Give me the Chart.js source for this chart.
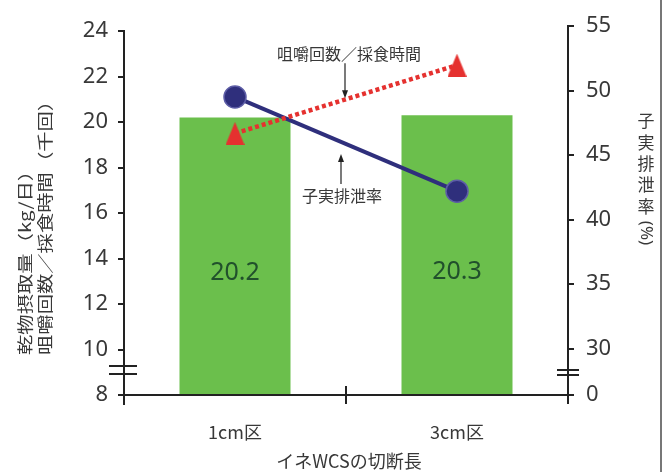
<!DOCTYPE html>
<html>
<head>
<meta charset="utf-8">
<script src="https://cdn.jsdelivr.net/npm/chart.js@4/dist/chart.umd.min.js"></script>
<style>
  html, body { margin: 0; padding: 0; background: #ffffff; }
  #wrap { width: 665px; height: 472px; position: relative; }
</style>
</head>
<body>
<div id="wrap"><canvas id="c" width="665" height="472"></canvas></div>
<script>
// ---- data ----
const categories = ['1cm区', '3cm区'];
const intake = [20.2, 20.3];        // 乾物摂取量 (kg/日)
const chewing = [19.5, 22.5];       // 咀嚼回数／採食時間 (千回)
const excretion = [49.5, 42.2];     // 子実排泄率 (%)
const leftTicks = [8, 10, 12, 14, 16, 18, 20, 22, 24];
const rightTicks = [30, 35, 40, 45, 50, 55];

const xTitle = 'イネWCSの切断長';
const leftTitle = ['乾物摂取量（kg/日）', '咀嚼回数／採食時間（千回）'];
const rightTitleChars = ['子', '実', '排', '泄', '率'];
const rightTitleUnit = '(%)';
const chewNote = '咀嚼回数／採食時間';
const excrNote = '子実排泄率';

// ---- scale ranges (the right axis is broken below 30; its floor is labelled 0) ----
const LEFT_MIN = 8, LEFT_MAX = 24.22;
const RIGHT_MIN = 26.4, RIGHT_MAX = 55;

const FONT = "'Noto Sans', 'Noto Sans CJK JP', sans-serif";
const JFONT = "'Noto Sans CJK JP', 'Noto Sans', sans-serif";
const INK = '#383838';
const AXIS = '#222222';
const GREEN = '#6bbf4c';
const RED = '#e5312f';
const NAVY = '#2f2f7c';

function triangleMark(w, h, color) {
  const c = document.createElement('canvas');
  c.width = w; c.height = h;
  const g = c.getContext('2d');
  g.fillStyle = color;
  g.beginPath();
  g.moveTo(w / 2, 0);
  g.lineTo(w, h);
  g.lineTo(0, h);
  g.closePath();
  g.fill();
  return c;
}
const tri = triangleMark(19, 23, RED);

function arrow(ctx, x, y0, y1) {
  // shaft from y0 to tip y1
  const dir = Math.sign(y1 - y0);
  ctx.beginPath();
  ctx.moveTo(x, y0);
  ctx.lineTo(x, y1 - dir * 5);
  ctx.stroke();
  ctx.beginPath();
  ctx.moveTo(x, y1);
  ctx.lineTo(x - 3, y1 - dir * 8);
  ctx.lineTo(x + 3, y1 - dir * 8);
  ctx.closePath();
  ctx.fill();
}

const decor = {
  id: 'decor',
  beforeDraw(chart) {
    const ctx = chart.ctx;
    ctx.save();
    ctx.fillStyle = '#ffffff';
    ctx.fillRect(0, 0, chart.width, chart.height);
    ctx.restore();
  },
  afterDatasetsDraw(chart) {
    const ctx = chart.ctx;
    const a = chart.chartArea;
    const x = chart.scales.x, yL = chart.scales.yL;
    ctx.save();

    // bar value labels (bars are clipped at the broken axis floor)
    const bars = chart.getDatasetMeta(0).data;
    ctx.font = '25px ' + FONT;
    ctx.fillStyle = '#21502c';
    ctx.textAlign = 'center';
    ctx.textBaseline = 'middle';
    bars.forEach((b, i) => {
      const yy = b.y + (a.bottom - b.y) * 0.56;
      ctx.fillText(intake[i].toFixed(1), b.x, yy);
    });

    // axes
    ctx.strokeStyle = AXIS;
    ctx.fillStyle = AXIS;
    ctx.lineWidth = 2;
    ctx.lineCap = 'butt';
    const top24 = yL.getPixelForValue(24);
    ctx.beginPath();
    ctx.moveTo(a.left, top24 - 1);
    ctx.lineTo(a.left, a.bottom + 10);
    ctx.moveTo(a.right, a.top - 1);
    ctx.lineTo(a.right, a.bottom + 9);
    ctx.moveTo(a.left, a.bottom);
    ctx.lineTo(a.right, a.bottom);
    // tick between the two categories
    const mid = (x.getPixelForValue(0) + x.getPixelForValue(1)) / 2;
    ctx.moveTo(mid, a.bottom - 9);
    ctx.lineTo(mid, a.bottom + 9);
    ctx.stroke();

    // axis break marks
    ctx.lineWidth = 1.8;
    ctx.beginPath();
    ctx.moveTo(a.left - 15, a.bottom - 29); ctx.lineTo(a.left + 13, a.bottom - 29);
    ctx.moveTo(a.left - 15, a.bottom - 21); ctx.lineTo(a.left + 13, a.bottom - 21);
    ctx.moveTo(a.right - 11, a.bottom - 25); ctx.lineTo(a.right + 11, a.bottom - 25);
    ctx.moveTo(a.right - 11, a.bottom - 20); ctx.lineTo(a.right + 11, a.bottom - 20);
    ctx.stroke();

    // notes with arrows
    const redPts = chart.getDatasetMeta(2).data;
    const bluePts = chart.getDatasetMeta(1).data;
    const redMid = (redPts[0].y + redPts[1].y) / 2;
    const blueMid = (bluePts[0].y + bluePts[1].y) / 2;
    ctx.lineWidth = 1.2;
    ctx.strokeStyle = '#222';
    ctx.fillStyle = '#222';
    arrow(ctx, mid - 1, redMid - 36, redMid - 1);
    arrow(ctx, mid - 5, blueMid + 40, blueMid + 10);
    ctx.fillStyle = INK;
    ctx.font = '16px ' + JFONT;
    ctx.textAlign = 'center';
    ctx.textBaseline = 'middle';
    ctx.fillText(chewNote, mid + 3, redMid - 45);
    ctx.fillText(excrNote, mid - 4, blueMid + 52);

    // x axis title
    ctx.font = '18px ' + JFONT;
    ctx.fillText(xTitle, mid + 3, 461);

    // left axis title, two rotated lines
    ctx.textAlign = 'left';
    [[25, leftTitle[0]], [45, leftTitle[1]]].forEach(([cx, t]) => {
      ctx.save();
      ctx.translate(cx, 355);
      ctx.rotate(-Math.PI / 2);
      ctx.scale(1.27, 1);
      ctx.font = '16px ' + JFONT;
      ctx.fillText(t, 0, 0);
      ctx.restore();
    });

    // right axis title, vertical with upright characters
    ctx.textAlign = 'center';
    ctx.font = '17px ' + JFONT;
    rightTitleChars.forEach((ch, i) => {
      ctx.fillText(ch, 646, 121 + i * 21.3);
    });
    ctx.save();
    ctx.translate(646, 233);
    ctx.rotate(Math.PI / 2);
    ctx.font = '17px ' + FONT;
    ctx.fillText(rightTitleUnit, 0, 0);
    ctx.restore();

    // frame line on the right edge
    ctx.strokeStyle = '#4a4a4a';
    ctx.lineWidth = 1.5;
    ctx.beginPath();
    ctx.moveTo(661, 0);
    ctx.lineTo(661, chart.height);
    ctx.stroke();

    ctx.restore();
  }
};

new Chart(document.getElementById('c'), {
  data: {
    labels: categories,
    datasets: [
      {
        type: 'bar',
        data: intake,
        yAxisID: 'yL',
        backgroundColor: GREEN,
        borderWidth: 0,
        barPercentage: 0.5,
        categoryPercentage: 1.0,
        order: 3
      },
      {
        type: 'line',
        data: excretion,
        yAxisID: 'yR',
        borderColor: NAVY,
        borderWidth: 4,
        pointStyle: 'circle',
        pointRadius: 11,
        pointBackgroundColor: NAVY,
        pointBorderColor: '#5d5da6',
        pointBorderWidth: 1.5,
        tension: 0,
        order: 2
      },
      {
        type: 'line',
        data: chewing,
        yAxisID: 'yL',
        borderColor: RED,
        borderWidth: 4.5,
        borderDash: [4, 3],
        borderCapStyle: 'butt',
        pointStyle: tri,
        pointRadius: 12,
        tension: 0,
        order: 1
      }
    ]
  },
  options: {
    responsive: false,
    animation: false,
    devicePixelRatio: 1,
    layout: { padding: { top: 26, left: 0, right: 0, bottom: 0 } },
    plugins: { legend: { display: false }, tooltip: { enabled: false } },
    scales: {
      x: {
        type: 'category',
        offset: true,
        grid: { display: false, drawTicks: false },
        border: { display: false },
        ticks: { font: { size: 18, family: JFONT }, color: INK, padding: 26 },
        afterFit: s => { s.height = 77; }
      },
      yL: {
        type: 'linear',
        position: 'left',
        min: LEFT_MIN,
        max: LEFT_MAX,
        afterBuildTicks: s => { s.ticks = leftTicks.map(v => ({ value: v })); },
        grid: { drawOnChartArea: false, drawTicks: true, tickLength: 6, color: AXIS, lineWidth: 2 },
        border: { display: false },
        ticks: { font: { size: 22, family: FONT }, color: INK, padding: 10, autoSkip: false },
        afterFit: s => { s.width = 124; }
      },
      yR: {
        type: 'linear',
        position: 'right',
        min: RIGHT_MIN,
        max: RIGHT_MAX,
        afterBuildTicks: s => { s.ticks = [RIGHT_MIN].concat(rightTicks).map(v => ({ value: v })); },
        grid: { drawOnChartArea: false, drawTicks: true, tickLength: 6, color: AXIS, lineWidth: 2 },
        border: { display: false },
        ticks: {
          font: { size: 22, family: FONT }, color: INK, padding: 12, autoSkip: false,
          callback: v => (v === RIGHT_MIN ? '0' : String(v))
        },
        afterFit: s => { s.width = 97; }
      }
    }
  },
  plugins: [decor]
});
</script>
</body>
</html>
